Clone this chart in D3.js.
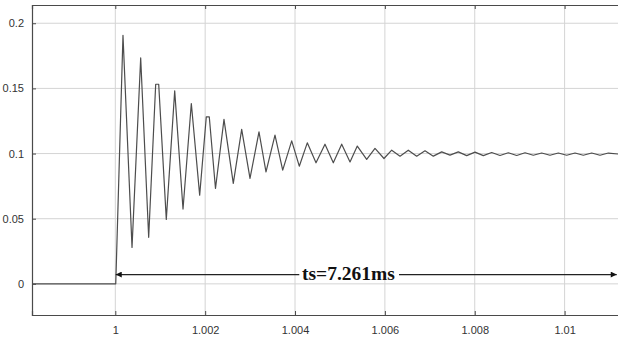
<!DOCTYPE html>
<html>
<head>
<meta charset="utf-8">
<script src="https://cdn.jsdelivr.net/npm/d3@7"></script>
<style>
  html, body { margin: 0; padding: 0; background: #fff; }
  svg { display: block; overflow: hidden; }
</style>
</head>
<body>
<script>
const width = 618;
const height = 340;
const margin = {top: 5, right: -2, bottom: 25, left: 32};

const times = [
  0.998146, 1.00001,
  1.000171, 1.000372, 1.000565, 1.000743, 1.000899, 1.000966, 1.001135, 1.001322,
  1.001507, 1.001692, 1.001878, 1.002025, 1.002092, 1.00223, 1.002419, 1.002626,
  1.002813, 1.002998, 1.003198, 1.003354, 1.003554, 1.003726, 1.003926, 1.004095,
  1.004273, 1.004467, 1.004667, 1.004852, 1.005039, 1.005224, 1.005386, 1.005595,
  1.00578, 1.00598, 1.006152, 1.006337, 1.006521, 1.006708, 1.006893, 1.007078,
  1.007265, 1.007449, 1.007634, 1.007821, 1.008006, 1.008191, 1.008377, 1.008562,
  1.008747, 1.008934, 1.009119, 1.009303, 1.00949, 1.009675, 1.00986, 1.010047,
  1.010232, 1.010416, 1.010603, 1.010788, 1.010973, 1.011233
];
const values = [
  0, 0,
  0.1908, 0.0280, 0.1734, 0.0357, 0.1532, 0.1532, 0.0495, 0.1481,
  0.0574, 0.1384, 0.0681, 0.1281, 0.1281, 0.0732, 0.1262, 0.0771,
  0.1185, 0.0809, 0.1166, 0.0860, 0.1141, 0.0873, 0.1097, 0.0903,
  0.1082, 0.0929, 0.1072, 0.0929, 0.1072, 0.0936, 0.1057, 0.0955,
  0.1039, 0.0962, 0.1026, 0.0980, 0.1026, 0.0980, 0.1021, 0.0980,
  0.1013, 0.0988, 0.1013, 0.0984, 0.1011, 0.0984, 0.1008, 0.0985,
  0.1006, 0.0985, 0.1006, 0.0987, 0.1004, 0.0987, 0.1004, 0.0987,
  0.1004, 0.0987, 0.1004, 0.0987, 0.1004, 0.0995
];

const xDomain = [0.998146, 1.011233];
const yDomain = [-0.0239, 0.214];
const xTicks = [1, 1.002, 1.004, 1.006, 1.008, 1.01];
const xTickLabels = ['1', '1.002', '1.004', '1.006', '1.008', '1.01'];
const yTicks = [0, 0.05, 0.1, 0.15, 0.2];
const yTickLabels = ['0', '0.05', '0.1', '0.15', '0.2'];

// settling-time annotation
const tsLabel = 'ts=7.261ms';
const tsStart = 1.00001;
const tsEnd = 1.01116;
const tsLevel = 0.0071;
const tsGap = [1.004095, 1.006314];
const tsTextAt = [1.004155, 0.0029];

const svg = d3.select('body').append('svg')
    .attr('width', width)
    .attr('height', height);

const x = d3.scaleLinear().domain(xDomain).range([margin.left, width - margin.right]);
const y = d3.scaleLinear().domain(yDomain).range([height - margin.bottom, margin.top]);

const defs = svg.append('defs');
defs.append('marker')
    .attr('id', 'head')
    .attr('viewBox', '0 0 10 10')
    .attr('refX', 10).attr('refY', 5)
    .attr('markerWidth', 9).attr('markerHeight', 6)
    .attr('markerUnits', 'userSpaceOnUse')
    .attr('orient', 'auto-start-reverse')
    .append('path')
    .attr('d', 'M0,0L10,5L0,10Z')
    .attr('fill', '#111');

// grid
svg.append('g').classed('grid', true)
    .selectAll('line.gx')
    .data(xTicks)
    .enter().append('line')
    .attr('x1', d => x(d)).attr('x2', d => x(d))
    .attr('y1', y(yDomain[0])).attr('y2', y(yDomain[1]))
    .attr('stroke', '#d4d4d4').attr('stroke-width', 1);
svg.select('.grid')
    .selectAll('line.gy')
    .data(yTicks)
    .enter().append('line')
    .attr('x1', x(xDomain[0])).attr('x2', x(xDomain[1]))
    .attr('y1', d => y(d)).attr('y2', d => y(d))
    .attr('stroke', '#d4d4d4').attr('stroke-width', 1);

// axes
const xAxis = d3.axisBottom(x).tickValues(xTicks).tickSize(-4).tickPadding(11)
    .tickFormat((d, i) => xTickLabels[i]);
const xAxisTop = d3.axisTop(x).tickValues(xTicks).tickSize(-4).tickFormat('');
const yAxis = d3.axisLeft(y).tickValues(yTicks).tickSize(-4).tickPadding(8)
    .tickFormat((d, i) => yTickLabels[i]);

function styleAxis(g) {
    g.select('.domain').attr('stroke', '#4a4a4a').attr('stroke-width', 1.2);
    g.selectAll('.tick line').attr('stroke', '#4a4a4a');
    g.selectAll('.tick text')
        .attr('fill', '#333')
        .style('font-family', 'Liberation Sans, Arial, sans-serif')
        .style('font-size', '11px');
}

svg.append('g').classed('xAxis', true)
    .attr('transform', `translate(0,${y(yDomain[0])})`)
    .call(xAxis).call(styleAxis);
svg.append('g').classed('xAxisTop', true)
    .attr('transform', `translate(0,${y(yDomain[1])})`)
    .call(xAxisTop).call(styleAxis);
svg.append('g').classed('yAxis', true)
    .attr('transform', `translate(${x(xDomain[0])},0)`)
    .call(yAxis).call(styleAxis);

// response curve
const line = d3.line()
    .x(d => x(d[0]))
    .y(d => y(d[1]));
svg.append('path')
    .datum(d3.zip(times, values))
    .attr('d', line)
    .attr('fill', 'none')
    .attr('stroke', '#4d4d4d')
    .attr('stroke-width', 1.2)
    .attr('stroke-linejoin', 'round');

// ts arrow
const ann = svg.append('g').classed('ts', true);
ann.append('line')
    .attr('x1', x(tsGap[0])).attr('x2', x(tsStart))
    .attr('y1', y(tsLevel)).attr('y2', y(tsLevel))
    .attr('stroke', '#222').attr('stroke-width', 1.3)
    .attr('marker-end', 'url(#head)');
ann.append('line')
    .attr('x1', x(tsGap[1])).attr('x2', x(tsEnd))
    .attr('y1', y(tsLevel)).attr('y2', y(tsLevel))
    .attr('stroke', '#222').attr('stroke-width', 1.3)
    .attr('marker-end', 'url(#head)');
ann.append('text')
    .attr('x', x(tsTextAt[0]))
    .attr('y', y(tsTextAt[1]))
    .attr('fill', '#111')
    .style('font-family', 'Liberation Serif, Times New Roman, serif')
    .style('font-weight', 'bold')
    .style('font-size', '19.5px')
    .text(tsLabel);
</script>
</body>
</html>
